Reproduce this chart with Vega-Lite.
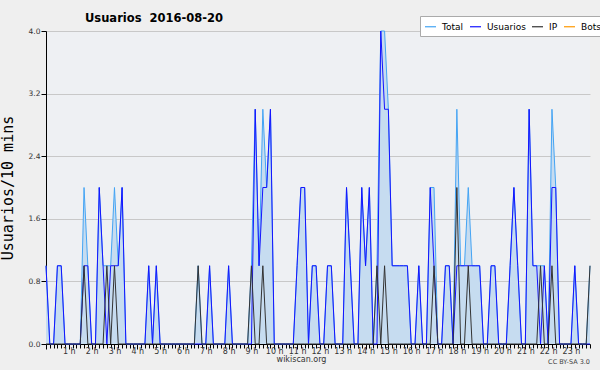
{
  "$schema": "https://vega.github.io/schema/vega-lite/v6.json",
  "width": 544,
  "height": 313,
  "autosize": {"type": "none"},
  "padding": {"left": 46, "top": 31, "right": 10, "bottom": 26},
  "background": "#efefef",
  "view": {"fill": "#eef0f3", "stroke": null},
  "title": {"text": "Usuarios\u00a0 2016-08-20", "anchor": "start", "frame": "group", "dx": 39, "offset": 0, "dy": 9, "font": "DejaVu Sans", "fontSize": 11.5, "fontWeight": "bold", "color": "#000"},
  "data": {"values": [
    {"t":0,"Total":1,"Usuarios":1,"IP":0},{"t":10,"Total":0,"Usuarios":0,"IP":0},{"t":20,"Total":0,"Usuarios":0,"IP":0},{"t":30,"Total":1,"Usuarios":1,"IP":0},{"t":40,"Total":1,"Usuarios":1,"IP":0},{"t":50,"Total":0,"Usuarios":0,"IP":0},
    {"t":60,"Total":0,"Usuarios":0,"IP":0},{"t":70,"Total":0,"Usuarios":0,"IP":0},{"t":80,"Total":0,"Usuarios":0,"IP":0},{"t":90,"Total":0,"Usuarios":0,"IP":0},{"t":100,"Total":2,"Usuarios":1,"IP":1},{"t":110,"Total":1,"Usuarios":1,"IP":0},
    {"t":120,"Total":0,"Usuarios":0,"IP":0},{"t":130,"Total":0,"Usuarios":0,"IP":0},{"t":140,"Total":2,"Usuarios":2,"IP":0},{"t":150,"Total":1,"Usuarios":1,"IP":0},{"t":160,"Total":1,"Usuarios":0,"IP":1},{"t":170,"Total":1,"Usuarios":1,"IP":0},
    {"t":180,"Total":2,"Usuarios":1,"IP":1},{"t":190,"Total":1,"Usuarios":1,"IP":0},{"t":200,"Total":2,"Usuarios":2,"IP":0},{"t":210,"Total":0,"Usuarios":0,"IP":0},{"t":220,"Total":0,"Usuarios":0,"IP":0},{"t":230,"Total":0,"Usuarios":0,"IP":0},
    {"t":240,"Total":0,"Usuarios":0,"IP":0},{"t":250,"Total":0,"Usuarios":0,"IP":0},{"t":260,"Total":0,"Usuarios":0,"IP":0},{"t":270,"Total":1,"Usuarios":1,"IP":0},{"t":280,"Total":0,"Usuarios":0,"IP":0},{"t":290,"Total":1,"Usuarios":1,"IP":0},
    {"t":300,"Total":0,"Usuarios":0,"IP":0},{"t":310,"Total":0,"Usuarios":0,"IP":0},{"t":320,"Total":0,"Usuarios":0,"IP":0},{"t":330,"Total":0,"Usuarios":0,"IP":0},{"t":340,"Total":0,"Usuarios":0,"IP":0},{"t":350,"Total":0,"Usuarios":0,"IP":0},
    {"t":360,"Total":0,"Usuarios":0,"IP":0},{"t":370,"Total":0,"Usuarios":0,"IP":0},{"t":380,"Total":0,"Usuarios":0,"IP":0},{"t":390,"Total":0,"Usuarios":0,"IP":0},{"t":400,"Total":1,"Usuarios":0,"IP":1},{"t":410,"Total":0,"Usuarios":0,"IP":0},
    {"t":420,"Total":0,"Usuarios":0,"IP":0},{"t":430,"Total":1,"Usuarios":1,"IP":0},{"t":440,"Total":0,"Usuarios":0,"IP":0},{"t":450,"Total":0,"Usuarios":0,"IP":0},{"t":460,"Total":0,"Usuarios":0,"IP":0},{"t":470,"Total":0,"Usuarios":0,"IP":0},
    {"t":480,"Total":1,"Usuarios":1,"IP":0},{"t":490,"Total":0,"Usuarios":0,"IP":0},{"t":500,"Total":0,"Usuarios":0,"IP":0},{"t":510,"Total":0,"Usuarios":0,"IP":0},{"t":520,"Total":0,"Usuarios":0,"IP":0},{"t":530,"Total":0,"Usuarios":0,"IP":0},
    {"t":540,"Total":1,"Usuarios":0,"IP":1},{"t":550,"Total":3,"Usuarios":3,"IP":0},{"t":560,"Total":1,"Usuarios":1,"IP":0},{"t":570,"Total":3,"Usuarios":2,"IP":1},{"t":580,"Total":2,"Usuarios":2,"IP":0},{"t":590,"Total":3,"Usuarios":3,"IP":0},
    {"t":600,"Total":0,"Usuarios":0,"IP":0},{"t":610,"Total":0,"Usuarios":0,"IP":0},{"t":620,"Total":0,"Usuarios":0,"IP":0},{"t":630,"Total":0,"Usuarios":0,"IP":0},{"t":640,"Total":0,"Usuarios":0,"IP":0},{"t":650,"Total":0,"Usuarios":0,"IP":0},
    {"t":660,"Total":1,"Usuarios":1,"IP":0},{"t":670,"Total":2,"Usuarios":2,"IP":0},{"t":680,"Total":2,"Usuarios":2,"IP":0},{"t":690,"Total":0,"Usuarios":0,"IP":0},{"t":700,"Total":1,"Usuarios":1,"IP":0},{"t":710,"Total":1,"Usuarios":1,"IP":0},
    {"t":720,"Total":0,"Usuarios":0,"IP":0},{"t":730,"Total":0,"Usuarios":0,"IP":0},{"t":740,"Total":1,"Usuarios":1,"IP":0},{"t":750,"Total":1,"Usuarios":1,"IP":0},{"t":760,"Total":0,"Usuarios":0,"IP":0},{"t":770,"Total":0,"Usuarios":0,"IP":0},
    {"t":780,"Total":0,"Usuarios":0,"IP":0},{"t":790,"Total":2,"Usuarios":2,"IP":0},{"t":800,"Total":1,"Usuarios":1,"IP":0},{"t":810,"Total":0,"Usuarios":0,"IP":0},{"t":820,"Total":0,"Usuarios":0,"IP":0},{"t":830,"Total":2,"Usuarios":2,"IP":0},
    {"t":840,"Total":1,"Usuarios":1,"IP":0},{"t":850,"Total":2,"Usuarios":2,"IP":0},{"t":860,"Total":0,"Usuarios":0,"IP":0},{"t":870,"Total":1,"Usuarios":0,"IP":1},{"t":880,"Total":4,"Usuarios":4,"IP":0},{"t":890,"Total":4,"Usuarios":3,"IP":1},
    {"t":900,"Total":3,"Usuarios":3,"IP":0},{"t":910,"Total":1,"Usuarios":1,"IP":0},{"t":920,"Total":1,"Usuarios":1,"IP":0},{"t":930,"Total":1,"Usuarios":1,"IP":0},{"t":940,"Total":1,"Usuarios":1,"IP":0},{"t":950,"Total":1,"Usuarios":1,"IP":0},
    {"t":960,"Total":0,"Usuarios":0,"IP":0},{"t":970,"Total":0,"Usuarios":0,"IP":0},{"t":980,"Total":1,"Usuarios":1,"IP":0},{"t":990,"Total":0,"Usuarios":0,"IP":0},{"t":1000,"Total":0,"Usuarios":0,"IP":0},{"t":1010,"Total":2,"Usuarios":2,"IP":0},
    {"t":1020,"Total":2,"Usuarios":1,"IP":1},{"t":1030,"Total":0,"Usuarios":0,"IP":0},{"t":1040,"Total":0,"Usuarios":0,"IP":0},{"t":1050,"Total":1,"Usuarios":1,"IP":0},{"t":1060,"Total":1,"Usuarios":1,"IP":0},{"t":1070,"Total":0,"Usuarios":0,"IP":0},
    {"t":1080,"Total":3,"Usuarios":1,"IP":2},{"t":1090,"Total":1,"Usuarios":1,"IP":0},{"t":1100,"Total":1,"Usuarios":1,"IP":0},{"t":1110,"Total":2,"Usuarios":1,"IP":1},{"t":1120,"Total":1,"Usuarios":1,"IP":0},{"t":1130,"Total":1,"Usuarios":1,"IP":0},
    {"t":1140,"Total":1,"Usuarios":1,"IP":0},{"t":1150,"Total":0,"Usuarios":0,"IP":0},{"t":1160,"Total":0,"Usuarios":0,"IP":0},{"t":1170,"Total":1,"Usuarios":1,"IP":0},{"t":1180,"Total":1,"Usuarios":1,"IP":0},{"t":1190,"Total":0,"Usuarios":0,"IP":0},
    {"t":1200,"Total":0,"Usuarios":0,"IP":0},{"t":1210,"Total":0,"Usuarios":0,"IP":0},{"t":1220,"Total":1,"Usuarios":1,"IP":0},{"t":1230,"Total":2,"Usuarios":2,"IP":0},{"t":1240,"Total":1,"Usuarios":1,"IP":0},{"t":1250,"Total":0,"Usuarios":0,"IP":0},
    {"t":1260,"Total":0,"Usuarios":0,"IP":0},{"t":1270,"Total":3,"Usuarios":3,"IP":0},{"t":1280,"Total":1,"Usuarios":1,"IP":0},{"t":1290,"Total":1,"Usuarios":1,"IP":0},{"t":1300,"Total":1,"Usuarios":0,"IP":1},{"t":1310,"Total":1,"Usuarios":1,"IP":0},
    {"t":1320,"Total":0,"Usuarios":0,"IP":0},{"t":1330,"Total":3,"Usuarios":2,"IP":1},{"t":1340,"Total":2,"Usuarios":2,"IP":0},{"t":1350,"Total":0,"Usuarios":0,"IP":0},{"t":1360,"Total":0,"Usuarios":0,"IP":0},{"t":1370,"Total":0,"Usuarios":0,"IP":0},
    {"t":1380,"Total":0,"Usuarios":0,"IP":0},{"t":1390,"Total":1,"Usuarios":1,"IP":0},{"t":1400,"Total":0,"Usuarios":0,"IP":0},{"t":1410,"Total":0,"Usuarios":0,"IP":0},{"t":1420,"Total":0,"Usuarios":0,"IP":0},{"t":1430,"Total":1,"Usuarios":0,"IP":1}
  ]},
  "encoding": {
    "x": {"field": "t", "type": "quantitative", "scale": {"domain": [0, 1430], "nice": false, "zero": false},
      "axis": {"values": [0,10,20,30,40,50,60,70,80,90,100,110,120,130,140,150,160,170,180,190,200,210,220,230,240,250,260,270,280,290,300,310,320,330,340,350,360,370,380,390,400,410,420,430,440,450,460,470,480,490,500,510,520,530,540,550,560,570,580,590,600,610,620,630,640,650,660,670,680,690,700,710,720,730,740,750,760,770,780,790,800,810,820,830,840,850,860,870,880,890,900,910,920,930,940,950,960,970,980,990,1000,1010,1020,1030,1040,1050,1060,1070,1080,1090,1100,1110,1120,1130,1140,1150,1160,1170,1180,1190,1200,1210,1220,1230,1240,1250,1260,1270,1280,1290,1300,1310,1320,1330,1340,1350,1360,1370,1380,1390,1400,1410,1420,1430],
        "labelExpr": "datum.value % 60 == 0 && datum.value > 0 ? (datum.value / 60) + ' h' : ''",
        "labelOverlap": false, "labelFlush": false, "labelAngle": 0, "labelFont": "DejaVu Sans", "labelFontSize": 8, "labelColor": "#333", "labelPadding": -2, "labelDx": -2,
        "grid": false, "domainColor": "#000", "tickColor": "#000",
        "tickSize": {"condition": {"test": "datum.value % 60 == 0", "value": 5}, "value": 4},
        "title": "wikiscan.org", "titleFont": "DejaVu Sans", "titleFontSize": 8, "titleFontWeight": "normal", "titleColor": "#333", "titleX": 255, "titlePadding": 0}}
  },
  "layer": [
    {"mark": {"type": "area", "color": "#c6dcf0", "opacity": 1},
     "encoding": {"y": {"field": "Total", "type": "quantitative", "scale": {"domain": [0, 4], "nice": false},
       "axis": {"values": [0,0.2,0.4,0.6,0.8,1,1.2,1.4,1.6,1.8,2,2.2,2.4,2.6,2.8,3,3.2,3.4,3.6,3.8,4],
         "labelExpr": "indexof([0,0.8,1.6,2.4,3.2,4], datum.value) >= 0 ? format(datum.value, '.1f') : ''",
         "labelFont": "DejaVu Sans", "labelFontSize": 7.5, "labelColor": "#333", "labelPadding": 1,
         "domainColor": "#000", "tickColor": "#000",
         "tickSize": {"condition": {"test": "indexof([0,0.8,1.6,2.4,3.2,4], datum.value) >= 0", "value": 5}, "value": 4},
         "grid": true, "gridColor": "#c8c8c8",
         "gridOpacity": {"condition": {"test": "indexof([0.8,1.6,2.4,3.2,4], datum.value) >= 0", "value": 1}, "value": 0},
         "title": "Usuarios/10 mins", "titleFont": "DejaVu Sans Mono", "titleFontSize": 15, "titleFontWeight": "normal", "titleColor": "#000", "titlePadding": 13}}}},
    {"mark": {"type": "line", "strokeWidth": 1, "interpolate": "linear"},
     "encoding": {"y": {"field": "Total", "type": "quantitative"},
       "color": {"datum": "Total", "scale": {"domain": ["Total", "Usuarios", "IP", "Bots"], "range": ["#44a4f4", "#1414ff", "#333333", "#ff9900"]}}}},
    {"mark": {"type": "line", "strokeWidth": 1},
     "encoding": {"y": {"field": "Usuarios", "type": "quantitative"}, "color": {"datum": "Usuarios"}}},
    {"mark": {"type": "line", "strokeWidth": 1},
     "encoding": {"y": {"field": "IP", "type": "quantitative"}, "color": {"datum": "IP"}}},
    {"transform": [{"filter": "datum.t == 1430"}],
     "mark": {"type": "text", "text": "CC BY-SA 3.0", "align": "right", "baseline": "middle", "font": "DejaVu Sans", "fontSize": 6.5, "color": "#444"},
     "encoding": {"x": {"datum": 1430, "type": "quantitative"}, "y": {"datum": -0.23, "type": "quantitative"}}}
  ],
  "resolve": {"scale": {"color": "shared"}},
  "config": {
    "legend": {"orient": "none", "legendX": 374, "legendY": -15, "direction": "horizontal", "title": null,
      "symbolType": "stroke", "symbolSize": 121, "symbolStrokeWidth": 1.2, "labelFont": "DejaVu Sans", "labelFontSize": 9, "labelColor": "#000",
      "fillColor": "#ffffff", "strokeColor": "#aaaaaa", "padding": 4, "columnPadding": 3, "labelOffset": 5}
  }
}
